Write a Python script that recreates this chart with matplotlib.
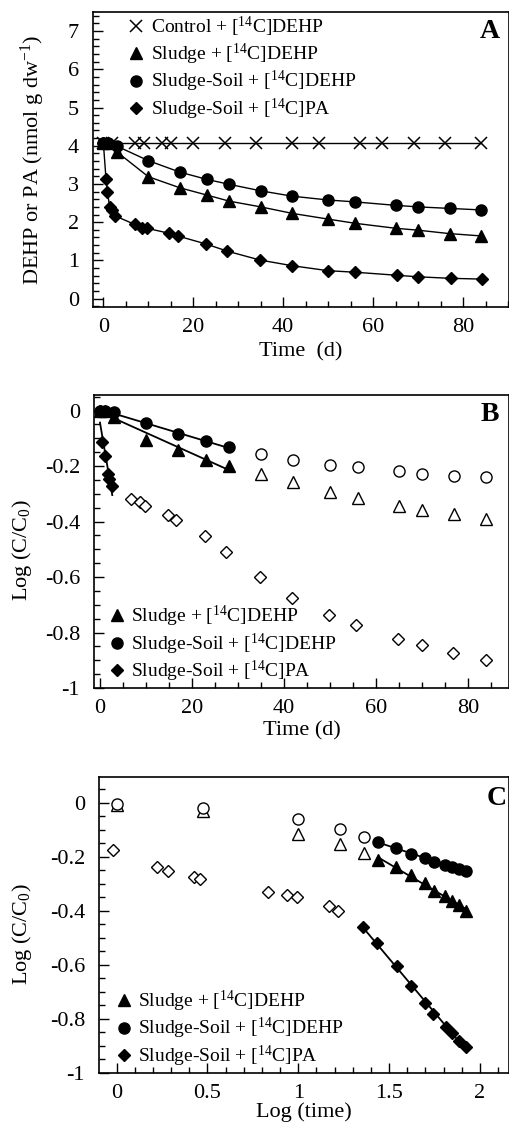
import numpy as np
import matplotlib
matplotlib.use('Agg')
import matplotlib.pyplot as plt
from matplotlib.ticker import MultipleLocator, FuncFormatter

plt.rcParams['font.family'] = ['Liberation Serif', 'DejaVu Serif']
plt.rcParams['mathtext.fontset'] = 'custom'
plt.rcParams['mathtext.rm'] = 'Liberation Serif'
plt.rcParams['mathtext.it'] = 'Liberation Serif:italic'
plt.rcParams['axes.unicode_minus'] = False

# ---- panel A : concentration vs time ----
t_ctrl = [0, 2, 7, 9, 13, 15, 20, 27, 34, 42, 48, 57, 62, 69, 76, 84]
ctrl_A = [4.08] * len(t_ctrl)
t_dehp = [0, 1, 3, 10, 17, 23, 28, 35, 42, 50, 56, 65, 70, 77, 84]
sludge_A = [4.08, 4.06, 3.84, 3.19, 2.90, 2.71, 2.55, 2.40, 2.23, 2.08, 1.97, 1.84, 1.79, 1.70, 1.64]
soil_A = [4.08, 4.08, 3.99, 3.61, 3.31, 3.12, 2.99, 2.82, 2.68, 2.58, 2.53, 2.44, 2.40, 2.36, 2.32]
t_pa_A = [0, 0.6, 0.9, 1.4, 2, 2.7, 7, 8.7, 9.7, 14.6, 16.5, 22.8, 27.6, 34.8, 42, 50, 56, 65.3, 70, 77.3, 84.3]
pa_A = [4.08, 3.12, 2.80, 2.40, 2.32, 2.16, 1.94, 1.86, 1.84, 1.71, 1.64, 1.43, 1.24, 1.01, 0.86, 0.73, 0.69, 0.61, 0.57, 0.53, 0.51]

# ---- panel B : log(C/C0) vs time ----
sludge_B = [0, -0.003, -0.022, -0.105, -0.141, -0.177, -0.201, -0.228, -0.258, -0.292, -0.315, -0.345, -0.360, -0.373, -0.390]
soil_B = [0, 0, -0.006, -0.045, -0.084, -0.111, -0.133, -0.157, -0.177, -0.195, -0.205, -0.219, -0.228, -0.235, -0.241]
n_fit_B = 7  # first 7 DEHP points (0-28 d) are filled / fitted
t_pa_fit_B = [0, 0.5, 1, 1.67, 2, 2.67]
pa_fit_B = [0, -0.115, -0.165, -0.23, -0.246, -0.272]
t_pa_open_B = [6.8, 8.7, 9.8, 14.7, 16.6, 22.8, 27.4, 34.8, 41.7, 49.8, 55.6, 64.8, 70, 76.8, 83.8]
pa_open_B = [-0.319, -0.331, -0.343, -0.378, -0.393, -0.451, -0.511, -0.599, -0.675, -0.737, -0.774, -0.822, -0.846, -0.875, -0.900]

# ---- panel C : log(C/C0) vs log(time) ----
lt_dehp_open = [0, 0.477, 1.0, 1.23, 1.36]
soil_open_C = [-0.005, -0.018, -0.059, -0.098, -0.126]
sludge_open_C = [-0.008, -0.030, -0.117, -0.153, -0.187]
lt_dehp_fit = [1.44, 1.54, 1.62, 1.70, 1.745, 1.81, 1.845, 1.885, 1.922]
soil_fit_C = [-0.146, -0.167, -0.19, -0.205, -0.218, -0.230, -0.239, -0.245, -0.252]
sludge_fit_C = [-0.212, -0.239, -0.267, -0.298, -0.325, -0.347, -0.362, -0.380, -0.399]
lt_pa_open = [-0.019, 0.220, 0.281, 0.425, 0.460, 0.834, 0.939, 0.991, 1.168, 1.220]
pa_open_C = [-0.175, -0.239, -0.251, -0.276, -0.283, -0.329, -0.342, -0.349, -0.384, -0.401]
lt_pa_fit = [1.357, 1.436, 1.541, 1.620, 1.697, 1.743, 1.812, 1.847, 1.885, 1.922]
pa_fit_C = [-0.460, -0.519, -0.606, -0.680, -0.741, -0.781, -0.828, -0.852, -0.881, -0.904]

lab_ctrl = r'Control + [$^{14}$C]DEHP'
lab_sl = r'Sludge + [$^{14}$C]DEHP'
lab_so = r'Sludge-Soil + [$^{14}$C]DEHP'
lab_pa = r'Sludge-Soil + [$^{14}$C]PA'

W, H = 510, 1129
fig = plt.figure(figsize=(W / 100, H / 100), dpi=100)


def box(l, t, r, b):
    return [l / W, 1 - b / H, (r - l) / W, (b - t) / H]


axA = fig.add_axes(box(93, 12, 509, 307))
axB = fig.add_axes(box(94, 395, 509, 688))
axC = fig.add_axes(box(99, 777, 509, 1073))

tick_fs = 16
lab_fs = 16
leg_fs = 14

filled = dict(color='black', linestyle='none')
opn = dict(color='black', markerfacecolor='white', linestyle='none', markeredgewidth=1)
legkw = dict(frameon=False, fontsize=leg_fs, handlelength=0.6, handletextpad=0.45,
             labelspacing=0.12, borderpad=0, borderaxespad=0)


def plain(v, pos):
    v = round(v, 6)
    if abs(v) < 1e-9:
        return '0'
    return '%g' % v


def fitline(ax, x, y):
    # straight regression line over the filled points
    k, b = np.polyfit(x, y, 1)
    xs = np.array([min(x), max(x)])
    ax.plot(xs, k * xs + b, color='black', lw=1.3, zorder=1)


def style(ax, xmaj, xmin, ymaj, ymin):
    ax.xaxis.set_major_locator(MultipleLocator(xmaj))
    ax.xaxis.set_minor_locator(MultipleLocator(xmin))
    ax.yaxis.set_major_locator(MultipleLocator(ymaj))
    ax.yaxis.set_minor_locator(MultipleLocator(ymin))
    ax.xaxis.set_major_formatter(FuncFormatter(plain))
    ax.yaxis.set_major_formatter(FuncFormatter(plain))
    ax.tick_params(which='both', direction='in', top=False, right=False, labelsize=tick_fs)
    ax.tick_params(axis='x', pad=8)
    ax.tick_params(axis='y', pad=10)
    ax.tick_params(which='major', length=7, width=1)
    ax.tick_params(which='minor', length=4, width=1)
    for s in ax.spines.values():
        s.set_linewidth(1.2)


# panel A
axA.plot(t_ctrl, ctrl_A, color='black', lw=1, zorder=1)
axA.plot(t_dehp, sludge_A, color='black', lw=1, zorder=1)
axA.plot(t_dehp, soil_A, color='black', lw=1, zorder=1)
axA.plot(t_pa_A, pa_A, color='black', lw=1, zorder=1)
axA.plot(t_ctrl, ctrl_A, marker='x', ms=8, mew=1.1, label=lab_ctrl, **filled)
axA.plot(t_dehp, sludge_A, marker='^', ms=8, label=lab_sl, **filled)
axA.plot(t_dehp, soil_A, marker='o', ms=8, label=lab_so, **filled)
axA.plot(t_pa_A, pa_A, marker='D', ms=6, label=lab_pa, **filled)
axA.set_xlim(-2.3, 90.2)
axA.set_ylim(-0.22, 7.5)
style(axA, 20, 5, 1, 0.2)
axA.set_xlabel('Time  (d)', fontsize=lab_fs)
axA.set_ylabel(r'DEHP or PA (nmol g dw$^{-1}$)', fontsize=lab_fs)
axA.yaxis.set_label_coords(-0.11, 0.5)
axA.xaxis.set_label_coords(0.5, -0.12)
axA.legend(loc='upper left', bbox_to_anchor=(0.09, 0.99), **legkw)
axA.text(0.978, 0.934, 'A', transform=axA.transAxes, ha='right', va='center',
         fontsize=20, fontweight='bold')

# panel B
nf = n_fit_B
fitline(axB, t_dehp[:nf], sludge_B[:nf])
fitline(axB, t_dehp[:nf], soil_B[:nf])
fitline(axB, t_pa_fit_B, pa_fit_B)
axB.plot(t_dehp[:nf], sludge_B[:nf], marker='^', ms=8, label=lab_sl, **filled)
axB.plot(t_dehp[:nf], soil_B[:nf], marker='o', ms=8, label=lab_so, **filled)
axB.plot(t_pa_fit_B, pa_fit_B, marker='D', ms=6, label=lab_pa, **filled)
axB.plot(t_dehp[nf:], sludge_B[nf:], marker='^', ms=8, **opn)
axB.plot(t_dehp[nf:], soil_B[nf:], marker='o', ms=8, **opn)
axB.plot(t_pa_open_B, pa_open_B, marker='D', ms=6, **opn)
axB.set_xlim(-1.3, 88.9)
axB.set_ylim(-1.0, 0.056)
style(axB, 20, 5, 0.2, 0.05)
axB.set_xlabel('Time (d)', fontsize=lab_fs)
axB.set_ylabel(r'Log (C/C$_0$)', fontsize=lab_fs)
axB.yaxis.set_label_coords(-0.145, 0.47)
axB.xaxis.set_label_coords(0.5, -0.115)
axB.legend(loc='lower left', bbox_to_anchor=(0.041, 0.013), **legkw)
axB.text(0.976, 0.935, 'B', transform=axB.transAxes, ha='right', va='center',
         fontsize=20, fontweight='bold')

# panel C
fitline(axC, lt_dehp_fit, sludge_fit_C)
fitline(axC, lt_dehp_fit, soil_fit_C)
fitline(axC, lt_pa_fit, pa_fit_C)
axC.plot(lt_dehp_fit, sludge_fit_C, marker='^', ms=8, label=lab_sl, **filled)
axC.plot(lt_dehp_fit, soil_fit_C, marker='o', ms=8, label=lab_so, **filled)
axC.plot(lt_pa_fit, pa_fit_C, marker='D', ms=6, label=lab_pa, **filled)
axC.plot(lt_dehp_open, sludge_open_C, marker='^', ms=8, **opn)
axC.plot(lt_dehp_open, soil_open_C, marker='o', ms=8, **opn)
axC.plot(lt_pa_open, pa_open_C, marker='D', ms=6, **opn)
axC.set_xlim(-0.097, 2.16)
axC.set_ylim(-1.0, 0.095)
style(axC, 0.5, 0.1, 0.2, 0.05)
axC.set_xlabel('Log (time)', fontsize=lab_fs)
axC.set_ylabel(r'Log (C/C$_0$)', fontsize=lab_fs)
axC.yaxis.set_label_coords(-0.159, 0.47)
axC.xaxis.set_label_coords(0.5, -0.1)
axC.legend(loc='lower left', bbox_to_anchor=(0.046, 0.014), **legkw)
axC.text(0.994, 0.926, 'C', transform=axC.transAxes, ha='right', va='center',
         fontsize=20, fontweight='bold')

fig.savefig('out.png', dpi=100)
